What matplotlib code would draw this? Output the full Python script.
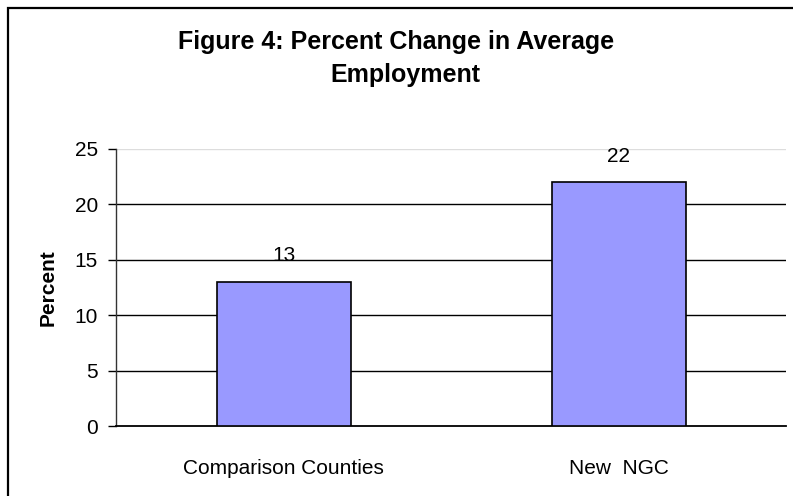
import matplotlib
matplotlib.use('Agg')
import matplotlib.pyplot as plt
from matplotlib.patches import Rectangle

categories = ['Comparison Counties', 'New  NGC']
values = [13, 22]
yticks = [0, 5, 10, 15, 20, 25]

plt.rcParams['font.family'] = ['Liberation Sans', 'DejaVu Sans']

fig = plt.figure(figsize=(7.93, 4.96), dpi=100)
ax = fig.add_axes([116/793, 1-426/496, (786-116)/793, (426-149)/496])

# outer chart frame (only left/top edges are inside the picture)
fig.patches.append(Rectangle((8/793, -0.1), 1.2, 1-8/496+0.1, transform=fig.transFigure,
                             fill=False, edgecolor='black', linewidth=1.6, clip_on=False))

x = range(len(categories))
bars = ax.bar(x, values, width=0.4, color='#9999FF', edgecolor='black', linewidth=1.2, zorder=3)
for xi, v in zip(x, values):
    ax.annotate(str(v), (xi, v), xytext=(0, 12), textcoords='offset points',
                ha='center', va='bottom', fontsize=15)

ax.set_xlim(-0.5, 1.5)
ax.set_ylim(0, 25)
ax.set_yticks(yticks)
ax.set_xticks(list(x))
ax.set_xticklabels(categories, fontsize=15)
ax.tick_params(axis='x', length=0, pad=24)
ax.tick_params(axis='y', length=6, width=1, pad=7, labelsize=15)

for yv in yticks[1:]:
    ax.axhline(yv, color='#dddddd' if yv == 25 else 'black', linewidth=1, zorder=1)

for s in ['top', 'right']:
    ax.spines[s].set_visible(False)
ax.spines['left'].set_color('#333333')
ax.spines['bottom'].set_linewidth(1.3)
ax.spines['left'].set_linewidth(1)

ax.set_ylabel('Percent', fontsize=15, fontweight='bold', labelpad=12)

fig.text(396/793, 1-49/496, 'Figure 4: Percent Change in Average', ha='center', va='baseline',
         fontsize=18, fontweight='bold')
fig.text(405/793, 1-82/496, 'Employment', ha='center', va='baseline',
         fontsize=18, fontweight='bold')

fig.savefig('out.png', dpi=100)
